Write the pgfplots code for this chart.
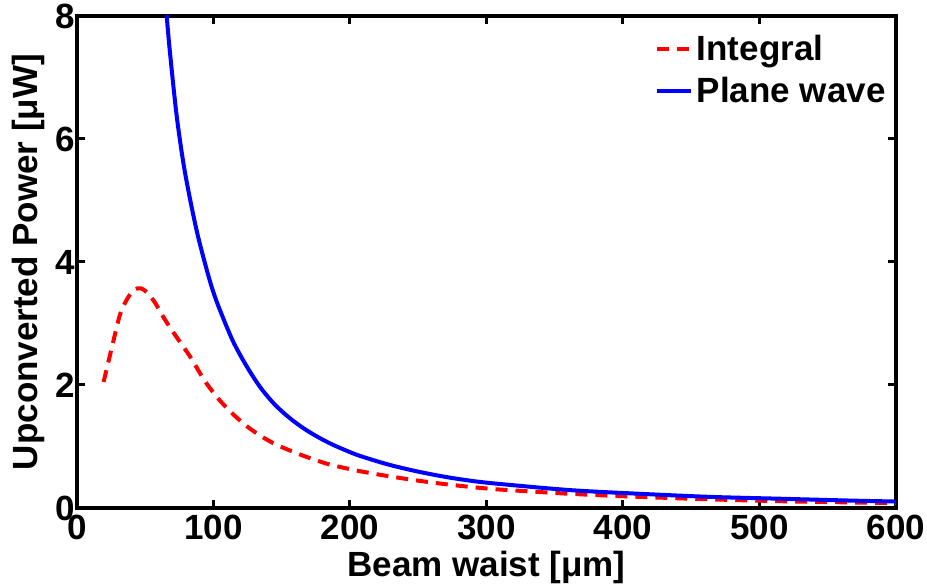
\documentclass[border=0pt]{standalone}
\usepackage{pgfplots}
\pgfplotsset{compat=1.18}
\usepackage{fontspec}
\setmainfont{Liberation Sans}
\begin{document}
\begin{tikzpicture}
\begin{axis}[
  scale only axis,
  width=409.5pt, height=246pt,
  xmin=0, xmax=600, ymin=0, ymax=8,
  xtick={0,100,200,300,400,500,600},
  ytick={0,2,4,6,8},
  axis line style={line width=2pt},
  major tick style={line width=1.5pt, black},
  major tick length=4pt,
  tick align=inside,
  font=\fontsize{17.5}{20}\selectfont\bfseries,
  /pgf/number format/assume math mode=true,
  ticklabel style={font=\fontsize{17.5}{20}\selectfont\bfseries},
  xticklabel style={yshift=0pt},
  yticklabel style={xshift=2.5pt},
  xlabel={Beam waist [μm]},
  ylabel={Upconverted Power [μW]},
  xlabel style={yshift=1pt},
  ylabel style={yshift=-1.5pt},
  legend style={draw=none, fill=none, at={(1.0,0.979)}, anchor=north east,
    font=\fontsize{17.5}{20}\selectfont\bfseries, row sep=3pt},
  legend cell align=left,
  clip=true,
]
\addplot[red, line width=2pt, dash pattern=on 6pt off 4pt, smooth, tension=0.5] coordinates {
(19.5,2.05) (26.5,2.7) (31.6,3.15) (36.8,3.4) (42,3.55) (47.1,3.57) (52.3,3.48)
(57.4,3.33) (62.6,3.13) (67.7,2.95) (72.9,2.78) (83.2,2.45) (93.5,2.07)
(103.8,1.77) (114.1,1.53) (124.4,1.33) (134.7,1.17) (145,1.04) (155.4,0.94)
(165.7,0.85) (176,0.77) (186.3,0.70) (206.9,0.60) (227.5,0.52) (248.1,0.45)
(268.8,0.39) (289.4,0.34) (310,0.30) (361.6,0.23) (413,0.18) (464.7,0.14)
(516.2,0.11) (567.8,0.09) (600,0.078)
};
\addlegendentry{Integral}
\addplot[blue, line width=2pt, smooth, tension=0.5] coordinates {
(64.6,8.3) (67.7,7.5) (72.9,6.4) (78,5.6) (83.2,4.98) (88.3,4.45) (93.5,4.0)
(98.6,3.6) (103.8,3.27) (114.1,2.72) (124.4,2.3) (134.7,1.95) (145,1.68)
(155.4,1.47) (165.7,1.30) (176,1.16) (186.3,1.04) (196.6,0.94) (206.9,0.85)
(227.5,0.71) (248.1,0.60) (268.8,0.51) (289.4,0.44) (310,0.39) (361.6,0.29)
(413,0.23) (464.7,0.18) (516.2,0.15) (567.8,0.12) (600,0.105)
};
\addlegendentry{Plane wave}
\end{axis}
\pgfresetboundingbox
\path[use as bounding box]
  ([shift={(-38.5pt,-38.5pt)}]current axis.south west)
  rectangle ([shift={(15.5pt,8pt)}]current axis.north east);
\end{tikzpicture}
\end{document}
